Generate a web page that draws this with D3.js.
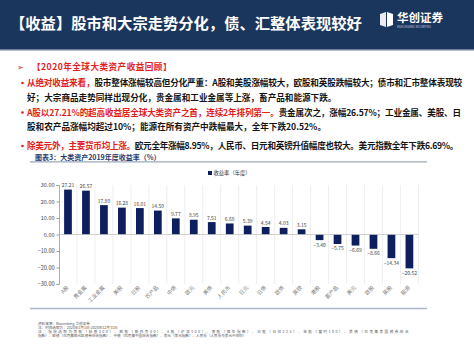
<!DOCTYPE html>
<html><head><meta charset="utf-8">
<script src="https://cdn.jsdelivr.net/npm/d3@7/dist/d3.min.js"></script>
<style>
html,body{margin:0;padding:0;background:#fff;}
svg{display:block;}
text{font-family:"Noto Sans CJK SC","Noto Sans",sans-serif;}
</style></head>
<body>
<script>
const categories = ["A股","贵金属","工业金属","美股","日股","农产品","中债","欧元","美债","人民币","日元","日债","欧债","英镑","港股","畜产品","美元","欧股","英股","能源"];
const values = [27.21,26.57,17.80,16.28,16.01,14.50,9.77,8.95,7.51,6.68,5.39,4.54,4.03,3.15,-3.40,-5.75,-6.69,-8.66,-14.34,-20.52];
const yTicks = [30,20,10,0,-10,-20,-30];
const seriesName = "收益率（年度）";
const headerTitle = "【收益】股市和大宗走势分化，债、汇整体表现较好";
const chartTitle = "图表3：大类资产2019年度收益率（%）";
const notes = [
 "资料来源：Bloomberg 华创证券",
 "注：时间选取为：2020年1月1日-2020年12月31日",
 "注：指标选取为美股（标普500）、欧股（斯托克50）、A股（沪深300）、港股（恒生指数）、日股（日经225）、英股（富时100）、美债（巴克莱美国债券综合",
 "指数）、欧债（巴克莱欧元区债券综合指数）、中债（巴克莱中国综合指数）、美元（美元指数）、人民币（人民币兑美元中间价）"
];

const W=474,H=355;
const svg=d3.select("body").append("svg").attr("width",W).attr("height",H);
const RED="#e3211c", BLK="#141414", NAVY="#0d1f5c";

// header
svg.append("rect").attr("x",0).attr("y",0).attr("width",W).attr("height",49).attr("fill","#1b365d");
svg.append("rect").attr("x",0).attr("y",49).attr("width",W).attr("height",1.5).attr("fill","#6e7f99");
svg.append("text").attr("x",10).attr("y",29).attr("fill","#fff").attr("font-size",15.3).attr("font-weight","bold").text(headerTitle);
// logo
const lg=svg.append("g");
lg.append("path").attr("d","M380,14 L386,12 L386,27 L380,25 Z").attr("fill","#e8ecf2");
lg.append("path").attr("d","M387,12 L393,14 L393,25 L387,27 Z").attr("fill","#ffffff");
lg.append("text").attr("x",397).attr("y",22).attr("fill","#fff").attr("font-size",11.5).attr("font-weight","bold").text("华创证券");
lg.append("text").attr("x",397).attr("y",27.5).attr("fill","#d0d8e4").attr("font-size",2.8).attr("font-family","Liberation Sans").text("HUA CHUANG SECURITIES");

function fit(t,target){
  const w=t.node().getComputedTextLength();
  const n=t.text().length;
  t.attr("letter-spacing",(target-w)/n);
}
function line(x,y,parts,target){
  const t=svg.append("text").attr("x",x).attr("y",y).attr("font-size",8.6).attr("font-weight","bold");
  parts.forEach(p=>t.append("tspan").attr("fill",p[1]).text(p[0]));
  if(target) fit(t,target);
  return t;
}
function bullet(y){
  svg.append("circle").attr("cx",22.5).attr("cy",y-3).attr("r",1.3).attr("fill",RED);
}
svg.append("text").attr("x",17).attr("y",70).attr("fill",RED).attr("font-size",7.5).text("➢");
line(32,70,[["【2020年全球大类资产收益回顾】",RED]],140);
bullet(86);
line(27,86,[["从绝对收益来看，",RED],["股市整体涨幅较高但分化严重：A股和美股涨幅较大，欧股和英股跌幅较大；债市和汇市整体表现较",BLK]],435);
line(27,100.5,[["好；大宗商品走势同样出现分化，贵金属和工业金属等上涨，畜产品和能源下跌。",BLK]],null);
bullet(115.5);
line(27,115.5,[["A股以27.21%的超高收益居全球大类资产之首，连续2年排列第一。",RED],["贵金属次之，涨幅26.57%；工业金属、美股、日",BLK]],434);
line(27,130,[["股和农产品涨幅均超过10%；能源在所有资产中跌幅最大，全年下跌20.52%。",BLK]],null);
bullet(149);
line(27,149,[["除美元外，主要货币均上涨。",RED],["欧元全年涨幅8.95%，人民币、日元和英镑升值幅度也较大。美元指数全年下跌6.69%。",BLK]],431);

// chart title
svg.append("text").attr("x",35).attr("y",159.5).attr("fill","#26396f").attr("font-size",7).attr("font-weight","bold").text(chartTitle);
svg.append("line").attr("x1",30).attr("x2",427).attr("y1",161.8).attr("y2",161.8).attr("stroke","#9aa8bc").attr("stroke-width",1.2);

// legend
svg.append("rect").attr("x",208).attr("y",171).attr("width",4).attr("height",4).attr("fill",NAVY);
svg.append("text").attr("x",213.5).attr("y",175).attr("fill","#333").attr("font-size",5.3).text(seriesName);

// scales
const x=d3.scaleBand().domain(categories).range([59,418.4]).paddingInner(0.57).paddingOuter(0.285);
const y=d3.scaleLinear().domain([-30,30]).range([284,185]);

// vertical grid lines at band boundaries
const step=x.step();
const bounds=categories.map((c,i)=>59+step*(i+1));
svg.append("g").selectAll("line").data(bounds).join("line")
  .attr("x1",d=>d).attr("x2",d=>d).attr("y1",y(30)).attr("y2",y(-30))
  .attr("stroke","#e6e6e6").attr("stroke-width",0.7);

// y axis
const ya=svg.append("g").attr("transform","translate(59,0)")
  .call(d3.axisLeft(y).tickValues(yTicks).tickFormat(d3.format(".2f")).tickSize(2.5).tickPadding(2));
ya.select(".domain").attr("stroke","#9a9a9a").attr("stroke-width",0.8);
ya.selectAll(".tick line").attr("stroke","#9a9a9a");
ya.selectAll("text").attr("font-size",5.5).attr("fill","#444").attr("font-family","Liberation Sans");

// bars
svg.append("g").selectAll("rect").data(values).join("rect")
  .attr("x",(d,i)=>x(categories[i])).attr("width",x.bandwidth())
  .attr("y",d=>y(Math.max(0,d))).attr("height",d=>Math.abs(y(d)-y(0)))
  .attr("fill",NAVY);

// zero line
svg.append("line").attr("x1",59).attr("x2",418.4).attr("y1",y(0)).attr("y2",y(0)).attr("stroke","#bdbdbd").attr("stroke-width",0.7);

// value labels
svg.append("g").selectAll("text").data(values).join("text")
  .attr("x",(d,i)=>x(categories[i])+x.bandwidth()/2)
  .attr("y",d=>d>=0?y(d)-2.5:y(d)+6.5)
  .attr("text-anchor","middle").attr("font-size",5).attr("fill","#444")
  .attr("font-family","Liberation Serif")
  .text(d=>d3.format(".2f")(d));

// category labels
svg.append("g").selectAll("text").data(categories).join("text")
  .attr("transform",(d)=>`translate(${x(d)+x.bandwidth()/2+1},${288}) rotate(-45)`)
  .attr("text-anchor","end").attr("font-size",5.3).attr("fill","#777")
  .text(d=>d);

// bottom rule
svg.append("line").attr("x1",30).attr("x2",427).attr("y1",308.5).attr("y2",308.5).attr("stroke","#a9b6c8").attr("stroke-width",1.5);

// notes
const ny=[324.5,328.5,332.5,336.5];
const nw=[null,null,372,null];
notes.forEach((n,i)=>{
  const t=svg.append("text").attr("x",38).attr("y",ny[i]).attr("fill","#555").attr("font-size",3.6).text(n);
  if(nw[i]) fit(t,nw[i]);
});
</script>
</body></html>
